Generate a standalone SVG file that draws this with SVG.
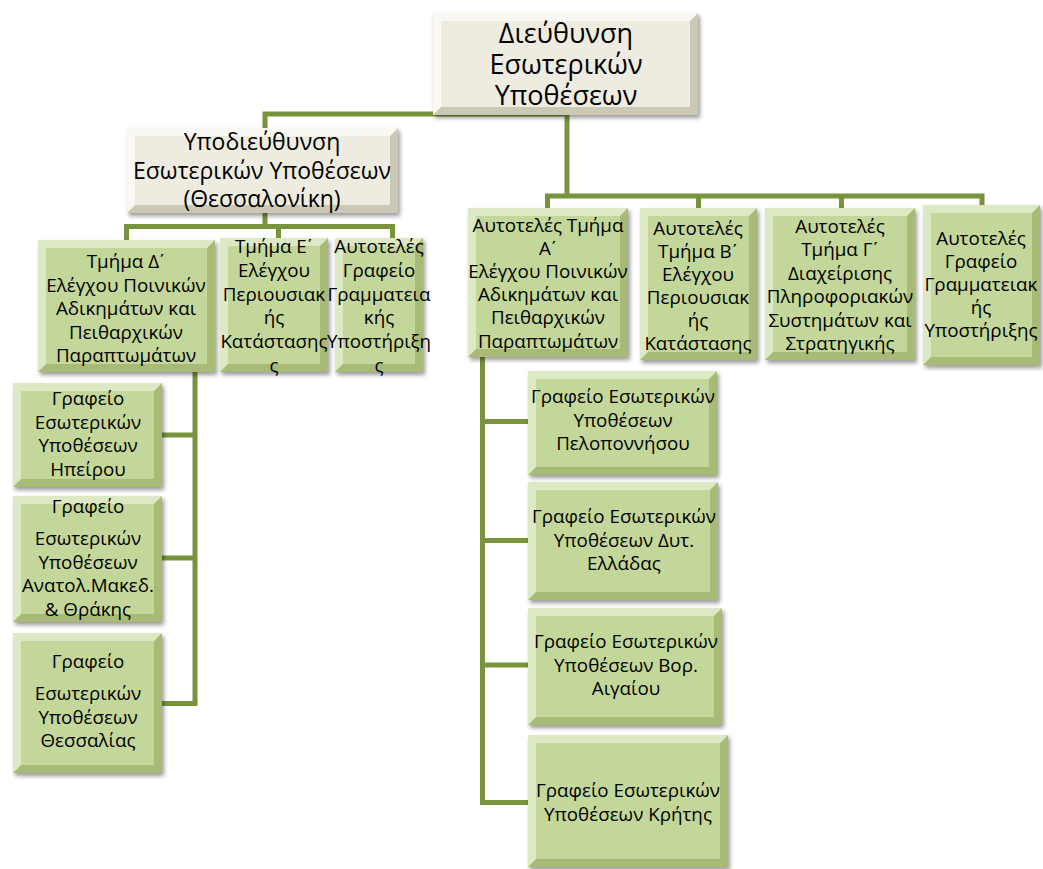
<svg xmlns="http://www.w3.org/2000/svg" width="1043" height="869" viewBox="0 0 1043 869">
  <style>
    text { font-family: "Open Sans", "Noto Sans", "DejaVu Sans", sans-serif; fill: #000; text-anchor: middle; }
    .t { font-size: 18.8px; }
    .tm { font-size: 23px; }
    .tb { font-size: 27px; }
    .ton { font-family: "Liberation Sans", "DejaVu Sans", sans-serif; }
    .base { filter: url(#shadow); }
    .green .base { fill: #a7bb76; }
    .green .hi { fill: #dde8c4; }
    .green .face { fill: #c4d79b; }
    .beige .base { fill: #cbc8b6; }
    .beige .hi { fill: #f9f8f3; }
    .beige .face { fill: #eeece1; }
    #connectors path { fill: none; stroke: #77933c; stroke-width: 5; }
  </style>
  <defs>
    <filter id="shadow" x="-10%" y="-10%" width="130%" height="130%">
      <feDropShadow dx="2" dy="3" stdDeviation="2.2" flood-color="#000" flood-opacity="0.4"/>
    </filter>
  </defs>
  <rect width="1043" height="869" fill="#fff"/>

  <!-- connectors -->
  <g id="connectors">
    <path d="M567,115 V196"/>
    <path d="M567,114 H265 V128"/>
    <path d="M547.5,208 V196 H982 V205"/>
    <path d="M698.5,196 V208 M841.5,196 V208"/>
    <path d="M265,213 V226.5"/>
    <path d="M126.5,240 V226.5 H392.5 V238 M278.5,226.5 V238"/>
    <path d="M195,372 V703.5 H162 M195,435 H162 M195,558 H162"/>
    <path d="M482.5,357 V802.5 H528 M482.5,421.5 H528 M482.5,540.5 H528 M482.5,665 H528"/>
  </g>

  <!-- head office -->
  <g id="n-dieythynsi" class="beige">
    <rect class="base" x="433" y="13" width="265" height="102"/>
    <path class="hi" d="M433,13 h265 l-8,8 h-249 v86 l-8,8 z"/>
    <rect class="face" x="441" y="21" width="249" height="86"/>
    <text class="tb"><tspan x="566" y="43">Διεύθυνση</tspan><tspan x="566" y="74">Εσωτερικών</tspan><tspan x="566" y="105">Υποθέσεων</tspan></text>
  </g>

  <g id="n-ypodieythynsi" class="beige">
    <rect class="base" x="127" y="128" width="271" height="85"/>
    <path class="hi" d="M127,128 h271 l-8,8 h-255 v69 l-8,8 z"/>
    <rect class="face" x="135" y="136" width="255" height="69"/>
    <text class="tm"><tspan x="262" y="150">Υποδιεύθυνση</tspan><tspan x="262" y="178.5">Εσωτερικών Υποθέσεων</tspan><tspan x="262" y="207">(Θεσσαλονίκη)</tspan></text>
  </g>

  <!-- Thessaloniki branch -->
  <g id="n-tmima-d" class="green">
    <rect class="base" x="38" y="240" width="177" height="132"/>
    <path class="hi" d="M38,240 h177 l-8,8 h-161 v116 l-8,8 z"/>
    <rect class="face" x="46" y="248" width="161" height="116"/>
    <text class="t"><tspan x="126" y="268">Τμήμα Δ</tspan><tspan class="ton">΄</tspan><tspan x="126" y="291.5">Ελέγχου Ποινικών</tspan><tspan x="126" dy="23.5">Αδικημάτων και</tspan><tspan x="126" dy="23.5">Πειθαρχικών</tspan><tspan x="126" dy="23.5">Παραπτωμάτων</tspan></text>
  </g>

  <g id="n-tmima-e" class="green">
    <rect class="base" x="220" y="238" width="108" height="134"/>
    <path class="hi" d="M220,238 h108 l-8,8 h-92 v118 l-8,8 z"/>
    <rect class="face" x="228" y="246" width="92" height="118"/>
    <text class="t"><tspan x="274" y="253">Τμήμα Ε</tspan><tspan class="ton">΄</tspan><tspan x="274" y="276.8">Ελέγχου</tspan><tspan x="274" dy="23.8">Περιουσιακ</tspan><tspan x="274" dy="23.8">ής</tspan><tspan x="274" dy="23.8">Κατάστασης</tspan><tspan x="274" dy="23.8">ς</tspan></text>
  </g>

  <g id="n-grafeio-thess" class="green">
    <rect class="base" x="335" y="238" width="88" height="134"/>
    <path class="hi" d="M335,238 h88 l-8,8 h-72 v118 l-8,8 z"/>
    <rect class="face" x="343" y="246" width="72" height="118"/>
    <text class="t"><tspan x="379" y="253">Αυτοτελές</tspan><tspan x="379" dy="23.8">Γραφείο</tspan><tspan x="379" dy="23.8">Γραμματεια</tspan><tspan x="379" dy="23.8">κής</tspan><tspan x="379" dy="23.8">Υποστήριξη</tspan><tspan x="379" dy="23.8">ς</tspan></text>
  </g>

  <g id="n-ipeirou" class="green">
    <rect class="base" x="13" y="383" width="149" height="104"/>
    <path class="hi" d="M13,383 h149 l-8,8 h-133 v88 l-8,8 z"/>
    <rect class="face" x="21" y="391" width="133" height="88"/>
    <text class="t"><tspan x="88" y="405">Γραφείο</tspan><tspan x="88" dy="23.5">Εσωτερικών</tspan><tspan x="88" dy="23.5">Υποθέσεων</tspan><tspan x="88" dy="23.5">Ηπείρου</tspan></text>
  </g>

  <g id="n-anatol" class="green">
    <rect class="base" x="13" y="496" width="149" height="126"/>
    <path class="hi" d="M13,496 h149 l-8,8 h-133 v110 l-8,8 z"/>
    <rect class="face" x="21" y="504" width="133" height="110"/>
    <text class="t"><tspan x="88" y="513">Γραφείο</tspan><tspan x="88" y="545">Εσωτερικών</tspan><tspan x="88" dy="23.5">Υποθέσεων</tspan><tspan x="88" dy="23.5">Ανατολ.Μακεδ.</tspan><tspan x="88" dy="23.5">&amp; Θράκης</tspan></text>
  </g>

  <g id="n-thessalias" class="green">
    <rect class="base" x="13" y="633" width="149" height="140"/>
    <path class="hi" d="M13,633 h149 l-8,8 h-133 v124 l-8,8 z"/>
    <rect class="face" x="21" y="641" width="133" height="124"/>
    <text class="t"><tspan x="88" y="668">Γραφείο</tspan><tspan x="88" y="700">Εσωτερικών</tspan><tspan x="88" dy="23.5">Υποθέσεων</tspan><tspan x="88" dy="23.5">Θεσσαλίας</tspan></text>
  </g>

  <!-- Athens departments -->
  <g id="n-tmima-a" class="green">
    <rect class="base" x="468" y="208" width="160" height="149"/>
    <path class="hi" d="M468,208 h160 l-8,8 h-144 v133 l-8,8 z"/>
    <rect class="face" x="476" y="216" width="144" height="133"/>
    <text class="t"><tspan x="548" y="232">Αυτοτελές Τμήμα</tspan><tspan x="548" y="255.1">Α</tspan><tspan class="ton">΄</tspan><tspan x="548" y="278.2">Ελέγχου Ποινικών</tspan><tspan x="548" dy="23.1">Αδικημάτων και</tspan><tspan x="548" dy="23.1">Πειθαρχικών</tspan><tspan x="548" dy="23.1">Παραπτωμάτων</tspan></text>
  </g>

  <g id="n-tmima-b" class="green">
    <rect class="base" x="640" y="208" width="117" height="152"/>
    <path class="hi" d="M640,208 h117 l-8,8 h-101 v136 l-8,8 z"/>
    <rect class="face" x="648" y="216" width="101" height="136"/>
    <text class="t"><tspan x="698" y="235">Αυτοτελές</tspan><tspan x="698" y="258">Τμήμα Β</tspan><tspan class="ton">΄</tspan><tspan x="698" y="281">Ελέγχου</tspan><tspan x="698" dy="23">Περιουσιακ</tspan><tspan x="698" dy="23">ής</tspan><tspan x="698" dy="23">Κατάστασης</tspan></text>
  </g>

  <g id="n-tmima-g" class="green">
    <rect class="base" x="765" y="208" width="150" height="152"/>
    <path class="hi" d="M765,208 h150 l-8,8 h-134 v136 l-8,8 z"/>
    <rect class="face" x="773" y="216" width="134" height="136"/>
    <text class="t"><tspan x="840" y="233">Αυτοτελές</tspan><tspan x="840" y="256.4">Τμήμα Γ</tspan><tspan class="ton">΄</tspan><tspan x="840" y="279.8">Διαχείρισης</tspan><tspan x="840" dy="23.4">Πληροφοριακών</tspan><tspan x="840" dy="23.4">Συστημάτων και</tspan><tspan x="840" dy="23.4">Στρατηγικής</tspan></text>
  </g>

  <g id="n-grafeio-ath" class="green">
    <rect class="base" x="923" y="205" width="117" height="160"/>
    <path class="hi" d="M923,205 h117 l-8,8 h-101 v144 l-8,8 z"/>
    <rect class="face" x="931" y="213" width="101" height="144"/>
    <text class="t"><tspan x="981" y="245">Αυτοτελές</tspan><tspan x="981" dy="23">Γραφείο</tspan><tspan x="981" dy="23">Γραμματειακ</tspan><tspan x="981" dy="23">ής</tspan><tspan x="981" dy="23">Υποστήριξης</tspan></text>
  </g>

  <!-- regional offices -->
  <g id="n-peloponnisou" class="green">
    <rect class="base" x="528" y="371" width="189" height="104"/>
    <path class="hi" d="M528,371 h189 l-8,8 h-173 v88 l-8,8 z"/>
    <rect class="face" x="536" y="379" width="173" height="88"/>
    <text class="t"><tspan x="623" y="403">Γραφείο Εσωτερικών</tspan><tspan x="623" dy="23.5">Υποθέσεων</tspan><tspan x="623" dy="23.5">Πελοποννήσου</tspan></text>
  </g>

  <g id="n-dyt-elladas" class="green">
    <rect class="base" x="528" y="482" width="190" height="118"/>
    <path class="hi" d="M528,482 h190 l-8,8 h-174 v102 l-8,8 z"/>
    <rect class="face" x="536" y="490" width="174" height="102"/>
    <text class="t"><tspan x="624" y="523">Γραφείο Εσωτερικών</tspan><tspan x="624" dy="23.5">Υποθέσεων Δυτ.</tspan><tspan x="624" dy="23.5">Ελλάδας</tspan></text>
  </g>

  <g id="n-vor-aigaiou" class="green">
    <rect class="base" x="528" y="608" width="194" height="117"/>
    <path class="hi" d="M528,608 h194 l-8,8 h-178 v101 l-8,8 z"/>
    <rect class="face" x="536" y="616" width="178" height="101"/>
    <text class="t"><tspan x="626" y="648">Γραφείο Εσωτερικών</tspan><tspan x="626" dy="23.5">Υποθέσεων Βορ.</tspan><tspan x="626" dy="23.5">Αιγαίου</tspan></text>
  </g>

  <g id="n-kritis" class="green">
    <rect class="base" x="528" y="735" width="200" height="132"/>
    <path class="hi" d="M528,735 h200 l-8,8 h-184 v116 l-8,8 z"/>
    <rect class="face" x="536" y="743" width="184" height="116"/>
    <text class="t"><tspan x="628" y="797">Γραφείο Εσωτερικών</tspan><tspan x="628" dy="23.5">Υποθέσεων Κρήτης</tspan></text>
  </g>
</svg>
